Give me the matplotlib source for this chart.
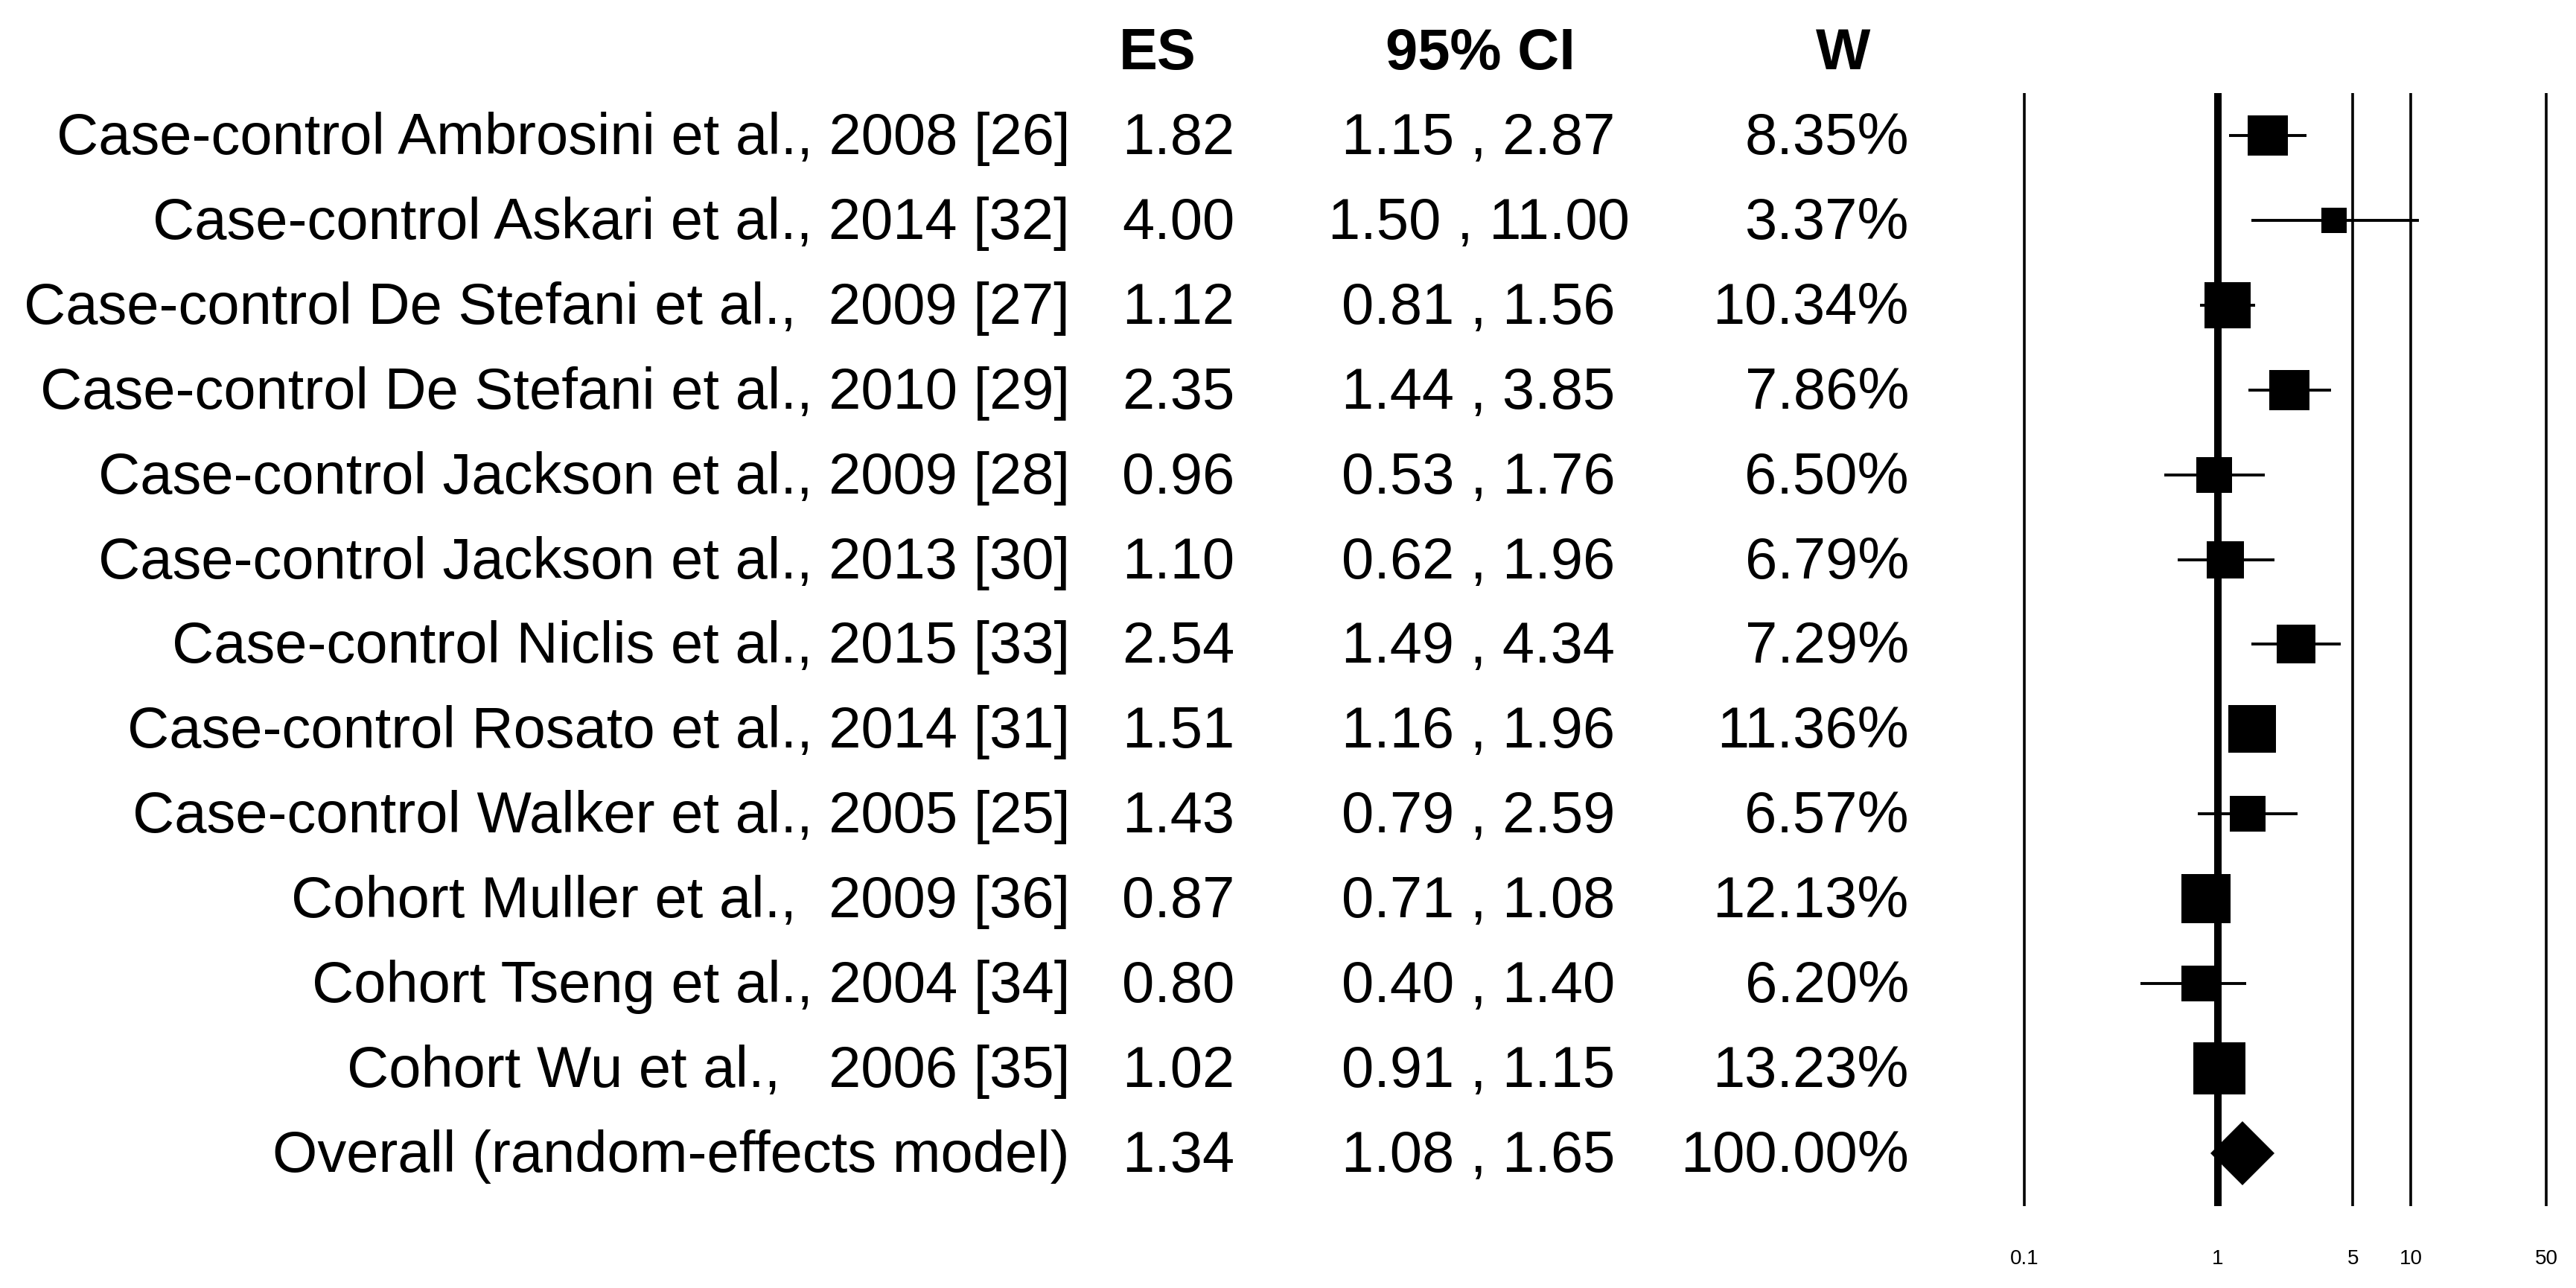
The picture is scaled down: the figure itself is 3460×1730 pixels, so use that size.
import numpy as np
import matplotlib
matplotlib.use('Agg')
import matplotlib.pyplot as plt
from matplotlib.transforms import blended_transform_factory

plt.rcParams['font.family'] = ['Liberation Sans', 'DejaVu Sans']

# data
studies = ['Case-control Ambrosini et al., 2008 [26]',
           'Case-control Askari et al., 2014 [32]',
           'Case-control De Stefani et al.,  2009 [27]',
           'Case-control De Stefani et al., 2010 [29]',
           'Case-control Jackson et al., 2009 [28]',
           'Case-control Jackson et al., 2013 [30]',
           'Case-control Niclis et al., 2015 [33]',
           'Case-control Rosato et al., 2014 [31]',
           'Case-control Walker et al., 2005 [25]',
           'Cohort Muller et al.,  2009 [36]',
           'Cohort Tseng et al., 2004 [34]',
           'Cohort Wu et al.,   2006 [35]']
es = [1.82, 4.00, 1.12, 2.35, 0.96, 1.10, 2.54, 1.51, 1.43, 0.87, 0.80, 1.02]
lo = [1.15, 1.50, 0.81, 1.44, 0.53, 0.62, 1.49, 1.16, 0.79, 0.71, 0.40, 0.91]
hi = [2.87, 11.00, 1.56, 3.85, 1.76, 1.96, 4.34, 1.96, 2.59, 1.08, 1.40, 1.15]
weights = [8.35, 3.37, 10.34, 7.86, 6.50, 6.79, 7.29, 11.36, 6.57, 12.13, 6.20, 13.23]

overall_label = 'Overall (random-effects model)'
overall_es = 1.34
overall_lo = 1.08
overall_hi = 1.65
overall_w = 100.00

ref_lines = [0.1, 1, 5, 10, 50]
tick_labels = ['0.1', '1', '5', '10', '50']

W, H = 3460, 1730
fig = plt.figure(figsize=(W / 100, H / 100), dpi=100)

# forest panel, placed in pixels
left_px, right_px = 2680, 3460
top_px, bot_px = 125, 1620
ax = fig.add_axes([left_px / W, 1 - bot_px / H, (right_px - left_px) / W, (bot_px - top_px) / H])
ax.set_xscale('log')
dec = 260.0
x0 = 0.1 * 10 ** (-(2719 - left_px) / dec)
x1 = 50 * 10 ** ((right_px - 3420) / dec)
ax.set_xlim(x0, x1)
n = len(studies)
row0, step = 182, 113.9
ax.set_ylim((bot_px - row0) / step, (top_px - row0) / step)

for v in ref_lines:
    ax.axvline(v, color='black', lw=7.2 if v == 1 else 2.6, zorder=1, solid_capstyle='butt')

for i in range(n):
    ax.plot([lo[i], hi[i]], [i, i], color='black', lw=2.8, zorder=2, solid_capstyle='butt')
    ax.plot(es[i], i, marker='s', color='black', markeredgewidth=0,
            markersize=13.7 * np.sqrt(weights[i]), zorder=3)

ax.plot(overall_es, n, marker='D', color='black', markeredgewidth=0, markersize=44, zorder=3)

ax.set_xticks(ref_lines)
ax.set_xticklabels(tick_labels)
ax.xaxis.set_minor_locator(matplotlib.ticker.NullLocator())
ax.tick_params(axis='x', length=0, pad=42, labelsize=20)
ax.set_yticks([])
for s in ax.spines.values():
    s.set_visible(False)

# table text, baselines placed relative to rows
tr = blended_transform_factory(fig.transFigure, ax.transData)
fs = 56
hy = (93 - row0) / step
fig.text(1503 / W, hy, 'ES', transform=tr, fontsize=fs, fontweight='bold', ha='left', va='baseline')
fig.text(1988 / W, hy, '95% CI', transform=tr, fontsize=fs, fontweight='bold', ha='center', va='baseline')
fig.text(2476 / W, hy, 'W', transform=tr, fontsize=fs, fontweight='bold', ha='center', va='baseline')

labels = studies + [overall_label]
es_all = es + [overall_es]
lo_all = lo + [overall_lo]
hi_all = hi + [overall_hi]
w_all = weights + [overall_w]
base = (207 - row0) / step
for i in range(n + 1):
    y = i + base
    fig.text(1437 / W, y, labels[i], transform=tr, fontsize=fs, ha='right', va='baseline')
    fig.text(1507 / W, y, '%.2f' % es_all[i], transform=tr, fontsize=fs, ha='left', va='baseline')
    fig.text(1986 / W, y, '%.2f , %.2f' % (lo_all[i], hi_all[i]), transform=tr, fontsize=fs,
             ha='center', va='baseline')
    fig.text(2564 / W, y, '%.2f%%' % w_all[i], transform=tr, fontsize=fs, ha='right', va='baseline')

fig.savefig('out.png', dpi=100, facecolor='white')
